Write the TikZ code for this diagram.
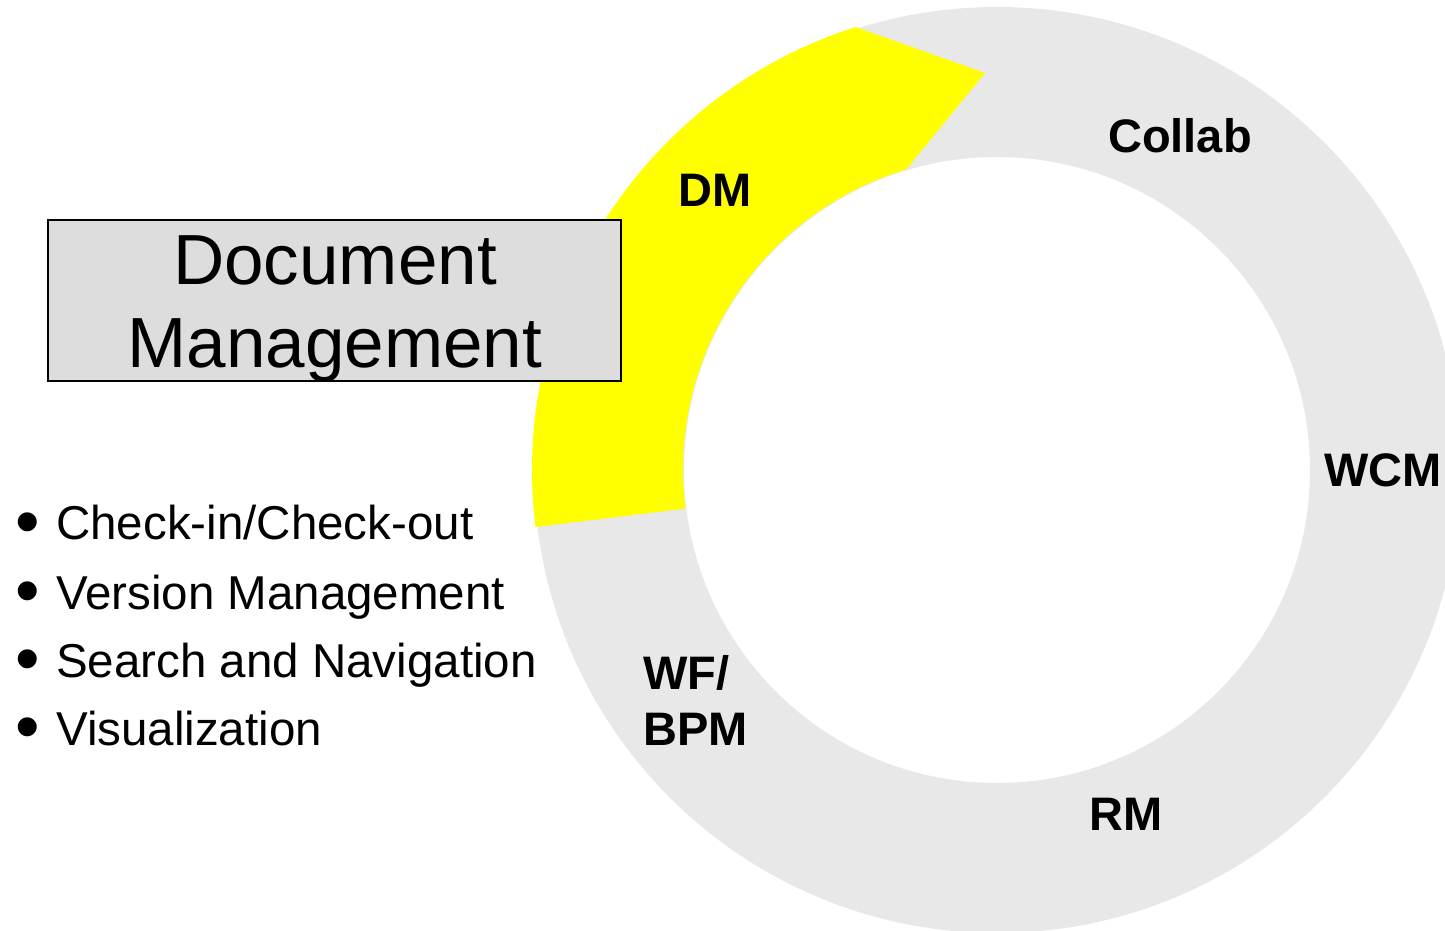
\documentclass[tikz,border=0pt]{standalone}
\usepackage{fontspec}
\setmainfont{Liberation Sans}
\definecolor{ringgrey}{HTML}{E8E8E8}
\definecolor{boxgrey}{HTML}{DDDDDD}
\definecolor{dmyellow}{HTML}{FFFF00}
\tikzset{
  lbl/.style={inner sep=0pt, font=\fontsize{47}{56}\selectfont\bfseries},
  bigtxt/.style={inner sep=0pt, font=\fontsize{71}{83}\selectfont},
  bullettxt/.style={inner sep=0pt, anchor=base west, font=\fontsize{47.5}{56}\selectfont},
  bulletdot/.style={inner sep=0pt, anchor=center, font=\fontsize{70}{80}\selectfont},
  titlebox/.style={draw=black, line width=2pt, fill=boxgrey, inner sep=0pt}
}
\begin{document}
\begin{tikzpicture}[x=1pt,y=1pt]
\useasboundingbox (0,0) rectangle (1445,930);
\clip (0,0) rectangle (1445,930);
\coordinate (C) at (997,460);
% grey ring
\fill[ringgrey, even odd rule] (C) circle[radius=463] (C) circle[radius=313];
% yellow DM segment
\fill[dmyellow] ([shift={(C)}]187.05:465) arc[start angle=187.05, end angle=107.7, radius=465]
  -- (985,857) -- ([shift={(C)}]106.8:314) arc[start angle=106.8, end angle=187.05, radius=314] -- cycle;
% title box
\node[titlebox, minimum width=573pt, minimum height=161pt] (box) at (334.5,629.5) {};
\node[bigtxt, anchor=base] (t1) at (335,645) {Document};
\node[bigtxt, anchor=base] (t2) at (335,562) {Management};
% bullets
\node[bulletdot] (b1) at (28,400.5) {•};
\node[bullettxt] (l1) at (56,390) {Check-in/Check-out};
\node[bulletdot] (b2) at (28,331.5) {•};
\node[bullettxt] (l2) at (56,321) {Version Management};
\node[bulletdot] (b3) at (28,263.5) {•};
\node[bullettxt] (l3) at (56,253) {Search and Navigation};
\node[bulletdot] (b4) at (28,195.5) {•};
\node[bullettxt] (l4) at (56,185) {Visualization};
% ring labels
\node[lbl, anchor=base] (collab) at (1180,777) {Collab};
\node[lbl, anchor=base] (dm) at (715,723) {DM};
\node[lbl, anchor=base west] (wcm) at (1324,443) {WCM};
\node[lbl, anchor=base west] (wf) at (643,241) {WF/};
\node[lbl, anchor=base west] (bpm) at (643,185) {BPM};
\node[lbl, anchor=base] (rm) at (1126,100) {RM};
\end{tikzpicture}
\end{document}
